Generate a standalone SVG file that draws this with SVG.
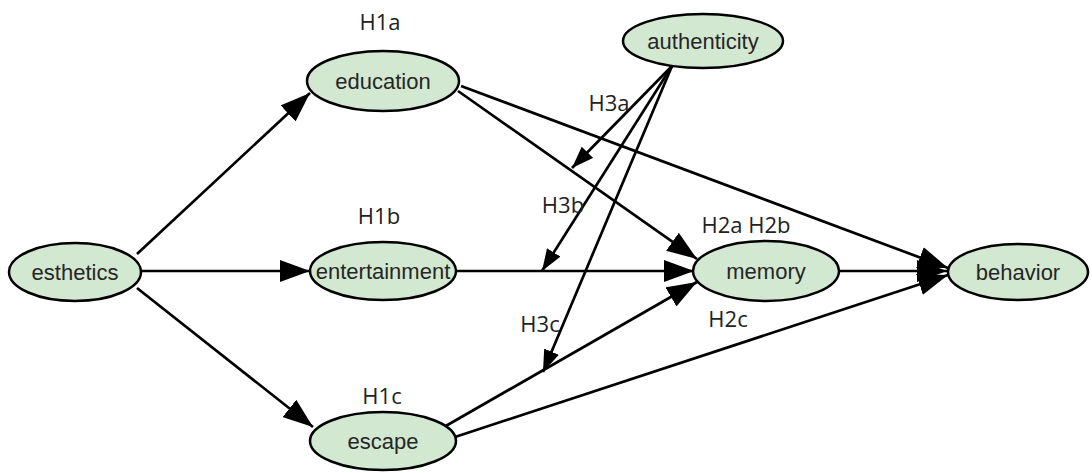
<svg xmlns="http://www.w3.org/2000/svg" width="1092" height="473" viewBox="0 0 1092 473">
<style>
.node ellipse{fill:#d3e8d0;stroke:#000;stroke-width:2.5}
.node text{font-family:"Liberation Sans",Arial,sans-serif;font-size:22px;fill:#262626;text-anchor:middle}
.edge{fill:none;stroke:#000;stroke-width:2.7}
.big{marker-end:url(#ah)}
.small{marker-end:url(#ahs)}
.lbl{font-family:"Open Sans","Noto Sans",sans-serif;font-size:22px;fill:#222;text-anchor:middle}
</style>
<defs>
<marker id="ah" viewBox="0 0 30 22" refX="30" refY="11" markerUnits="userSpaceOnUse" markerWidth="30" markerHeight="22" orient="auto">
<path d="M0,0 L30,11 L0,22 z" fill="#000"/>
</marker>
<marker id="ahs" viewBox="0 0 22 16" refX="22" refY="8" markerUnits="userSpaceOnUse" markerWidth="22" markerHeight="16" orient="auto">
<path d="M0,0 L22,8 L0,16 z" fill="#000"/>
</marker>
</defs>
<rect width="1092" height="473" fill="#fff"/>
<g id="connectors">
<path class="edge big" d="M137,254 L310,93"/>
<path class="edge big" d="M141,271 L310,271"/>
<path class="edge big" d="M137,288 L313,427"/>
<path class="edge big" d="M458,91 L697,259"/>
<path class="edge big" d="M461,86 L948,268"/>
<path class="edge big" d="M456,271 L694,271"/>
<path class="edge big" d="M444,427 L697,282"/>
<path class="edge big" d="M455,437 L948,275"/>
<path class="edge big" d="M839,271 L947,271"/>
<path class="edge small" d="M672,66 L572,168"/>
<path class="edge small" d="M672,66 L542,271"/>
<path class="edge small" d="M672,66 L543,372"/>
</g>
<g id="esthetics" class="node"><ellipse cx="75" cy="272" rx="66" ry="29"/><text x="75" y="280">esthetics</text></g>
<g id="education" class="node"><ellipse cx="383" cy="81" rx="76" ry="30"/><text x="383" y="89">education</text></g>
<g id="entertainment" class="node"><ellipse cx="383" cy="271" rx="73" ry="29"/><text x="383" y="279">entertainment</text></g>
<g id="escape" class="node"><ellipse cx="383" cy="441" rx="73" ry="29"/><text x="383" y="449">escape</text></g>
<g id="authenticity" class="node"><ellipse cx="703" cy="41" rx="80" ry="27"/><text x="703" y="49">authenticity</text></g>
<g id="memory" class="node"><ellipse cx="766" cy="271" rx="73" ry="30"/><text x="766" y="279">memory</text></g>
<g id="behavior" class="node"><ellipse cx="1018" cy="272" rx="70" ry="28"/><text x="1018" y="280">behavior</text></g>
<g id="labels">
<text class="lbl" x="380" y="30">H1a</text>
<text class="lbl" x="379" y="224">H1b</text>
<text class="lbl" x="382" y="404">H1c</text>
<text class="lbl" x="609" y="111">H3a</text>
<text class="lbl" x="563" y="213">H3b</text>
<text class="lbl" x="540" y="332">H3c</text>
<text class="lbl" x="746" y="233">H2a H2b</text>
<text class="lbl" x="728" y="327">H2c</text>
</g>
</svg>
